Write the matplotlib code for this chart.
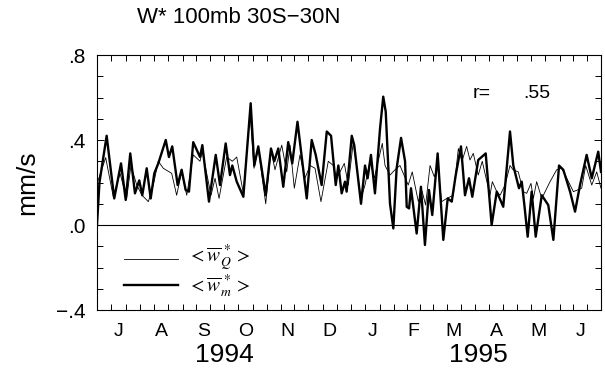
import numpy as np
import pandas as pd
import matplotlib
matplotlib.use("Agg")
import matplotlib.pyplot as plt
from matplotlib.ticker import MultipleLocator, FixedLocator, NullFormatter

plt.rcParams["font.family"] = ["Liberation Sans", "DejaVu Sans"]
plt.rcParams["mathtext.fontset"] = "stix"

START = pd.Timestamp("1994-07-01")

# days since 1 Jul 1994, values in mm/s
days_m = [0, 1.8, 7.0, 12.5, 17.4, 20.8, 24.1, 27.5, 30.6, 32.8, 36.0, 38.9,
          41.5, 44.4, 49.8, 52.1, 54.5, 58.4, 61.3, 64.2, 66.6, 69.7, 74.6,
          76.3, 81.1, 86.0, 89.1, 93.2, 96.3, 98.0, 101.2, 106.0, 111.3,
          113.9, 116.8, 122.2, 126.0, 128.4, 131.3, 134.9, 138.5, 141.4,
          145.2, 151.9, 155.5, 158.4, 162.7, 166.4, 169.5, 172.9, 174.8,
          177.2, 179.6, 180.8, 184.5, 186.3, 191.2, 194.1, 196.0, 198.4,
          201.3, 205.0, 207.3, 209.1, 212.2, 214.6, 217.0, 220.2, 223.1,
          224.3, 226.0, 227.4, 231.5, 234.6, 237.5, 240.4, 242.8, 246.7,
          250.8, 254.0, 256.9, 259.8, 263.6, 266.5, 269.4, 271.8, 276.1,
          281.5, 285.8, 289.5, 291.1, 294.2, 296.7, 299.1, 301.5, 303.2,
          305.6, 307.6, 309.5, 311.9, 314.8, 317.7, 322.1, 326.8, 330.5,
          334.6, 337.7, 342.6, 346.2, 349.8, 354.6, 358.3, 363.0, 365.0]
w_m = [0.0, 0.20, 0.42, 0.125, 0.29, 0.118, 0.337, 0.149, 0.21, 0.14, 0.267,
       0.125, 0.243, 0.29, 0.40, 0.32, 0.37, 0.188, 0.26, 0.165, 0.157, 0.39,
       0.32, 0.376, 0.11, 0.33, 0.188, 0.384, 0.235, 0.28, 0.204, 0.133,
       0.573, 0.28, 0.37, 0.14, 0.36, 0.30, 0.36, 0.18, 0.39, 0.29, 0.486,
       0.125, 0.40, 0.33, 0.188, 0.44, 0.42, 0.188, 0.28, 0.149, 0.204,
       0.157, 0.42, 0.376, 0.10, 0.28, 0.22, 0.33, 0.149, 0.455, 0.604,
       0.533, 0.10, -0.016, 0.267, 0.41, 0.30, 0.086, 0.078, 0.173, -0.04,
       0.18, -0.094, 0.165, 0.047, 0.337, -0.07, 0.125, 0.11, 0.235, 0.37,
       0.14, 0.22, 0.133, 0.306, 0.337, 0.0, 0.157, 0.133, 0.086, 0.267,
       0.44, 0.28, 0.235, 0.173, 0.204, 0.094, -0.055, 0.157, -0.055, 0.14,
       0.094, -0.07, 0.28, 0.26, 0.157, 0.063, 0.188, 0.33, 0.22, 0.345, 0.25]

days_q = [0.5, 6.3, 11.8, 16.7, 21.5, 24.6, 28.8, 32.6, 37.2, 40.8, 44.4,
          48.0, 54.1, 57.7, 61.3, 65.0, 69.7, 74.6, 76.3, 82.6, 85.5, 88.4,
          93.9, 98.0, 101.2, 106.0, 110.8, 113.7, 116.8, 122.2, 126.0, 128.9,
          133.8, 137.4, 139.8, 142.9, 147.0, 150.6, 154.3, 157.9, 162.2,
          167.5, 171.1, 173.6, 179.1, 182.0, 185.6, 191.2, 194.1, 197.7,
          200.8, 206.6, 208.6, 212.2, 215.8, 219.4, 225.4, 228.3, 232.7,
          235.4, 238.0, 241.2, 244.3, 246.7, 249.6, 253.3, 258.0, 261.7,
          264.3, 267.7, 270.1, 272.5, 276.1, 279.0, 284.6, 286.3, 289.5,
          291.9, 295.5, 299.1, 301.3, 305.1, 308.7, 311.2, 314.3, 316.0,
          318.4, 322.1, 328.1, 332.9, 336.5, 340.2, 345.0, 351.0, 353.9,
          358.3, 361.9, 365.0]
w_q = [0.204, 0.317, 0.133, 0.243, 0.125, 0.28, 0.188, 0.14, 0.11, 0.188,
       0.30, 0.267, 0.243, 0.14, 0.25, 0.14, 0.33, 0.30, 0.345, 0.14, 0.22,
       0.125, 0.32, 0.30, 0.32, 0.149, 0.533, 0.267, 0.36, 0.10, 0.353, 0.26,
       0.376, 0.25, 0.376, 0.173, 0.33, 0.22, 0.28, 0.267, 0.11, 0.30, 0.28,
       0.22, 0.29, 0.188, 0.39, 0.125, 0.188, 0.30, 0.22, 0.384, 0.28, 0.235,
       0.26, 0.28, 0.188, 0.25, 0.11, 0.16, 0.094, 0.28, 0.227, 0.275, 0.11,
       0.125, 0.14, 0.36, 0.30, 0.37, 0.306, 0.337, 0.235, 0.30, 0.14, 0.204,
       0.157, 0.14, 0.188, 0.28, 0.26, 0.25, 0.157, 0.149, 0.196, 0.125,
       0.204, 0.125, 0.204, 0.26, 0.267, 0.22, 0.157, 0.173, 0.28, 0.188,
       0.25, 0.173]

month_letters = ["J", "A", "S", "O", "N", "D", "J", "F", "M", "A", "M", "J"]
year_labels = ["1994", "1995"]
r_value = ".55"

# month boundaries in days
month_starts = pd.date_range("1994-07-01", "1995-07-01", freq="MS")
bounds = np.array((month_starts - START).days, dtype=float)
mids = (bounds[:-1] + bounds[1:]) / 2
thirds = np.concatenate([np.linspace(a, b, 4)[:-1] for a, b in zip(bounds[:-1], bounds[1:])] + [[bounds[-1]]])

fig = plt.figure(figsize=(6.05, 3.73), dpi=100)
ax = fig.add_axes([0.1603, 0.1689, 0.8331, 0.6836])

ax.axhline(0, color="black", lw=0.8)
ax.plot(days_q, w_q, color="black", lw=0.6)
ax.plot(days_m, w_m, color="black", lw=1.7)

ax.set_xlim(bounds[0], bounds[-1])
ax.set_ylim(-0.4, 0.8)

ax.set_yticks([-0.4, 0.0, 0.4, 0.8])
ax.set_yticklabels(["\u2212.4", ".0", ".4", ".8"], fontsize=15)
ax.yaxis.set_minor_locator(MultipleLocator(0.1))

ax.xaxis.set_major_locator(FixedLocator(mids))
ax.set_xticklabels(month_letters, fontsize=14)
ax.xaxis.set_minor_locator(FixedLocator(thirds))
ax.xaxis.set_minor_formatter(NullFormatter())

ax.tick_params(axis="x", which="major", length=0, pad=9)
ax.tick_params(axis="x", which="minor", direction="in", length=4, top=True, bottom=True, width=0.7)
ax.tick_params(axis="y", which="major", direction="in", length=5, left=True, right=True, pad=8, width=0.7)
ax.tick_params(axis="y", which="minor", direction="in", length=4, left=True, right=True, width=0.7)

for s in ax.spines.values():
    s.set_linewidth(0.8)

ax.set_ylabel("mm/s", fontsize=19, labelpad=12)

# year labels under the months
ax.text(bounds[3], -0.176, year_labels[0], transform=ax.get_xaxis_transform(),
        ha="center", va="center", fontsize=19)
ax.text(bounds[9] + 2, -0.176, year_labels[1], transform=ax.get_xaxis_transform(),
        ha="center", va="center", fontsize=19)

fig.text(0.394, 0.952, "W* 100mb 30S\u221230N", ha="center", va="center", fontsize=16)
ax.text(0.745, 0.85, "r=", transform=ax.transAxes, ha="left", va="center", fontsize=14)
ax.text(0.845, 0.85, r_value, transform=ax.transAxes, ha="left", va="center", fontsize=14)

# legend drawn by hand
ax.plot([0.053, 0.16], [0.20, 0.20], transform=ax.transAxes, color="black", lw=0.6)
ax.plot([0.053, 0.16], [0.10, 0.10], transform=ax.transAxes, color="black", lw=1.7)
ax.text(0.18, 0.205, r"$<\overline{w}^{\,*}_{Q}>$", transform=ax.transAxes, va="center", fontsize=14)
ax.text(0.18, 0.095, r"$<\overline{w}^{\,*}_{m}>$", transform=ax.transAxes, va="center", fontsize=14)

fig.savefig("out.png", dpi=100)
